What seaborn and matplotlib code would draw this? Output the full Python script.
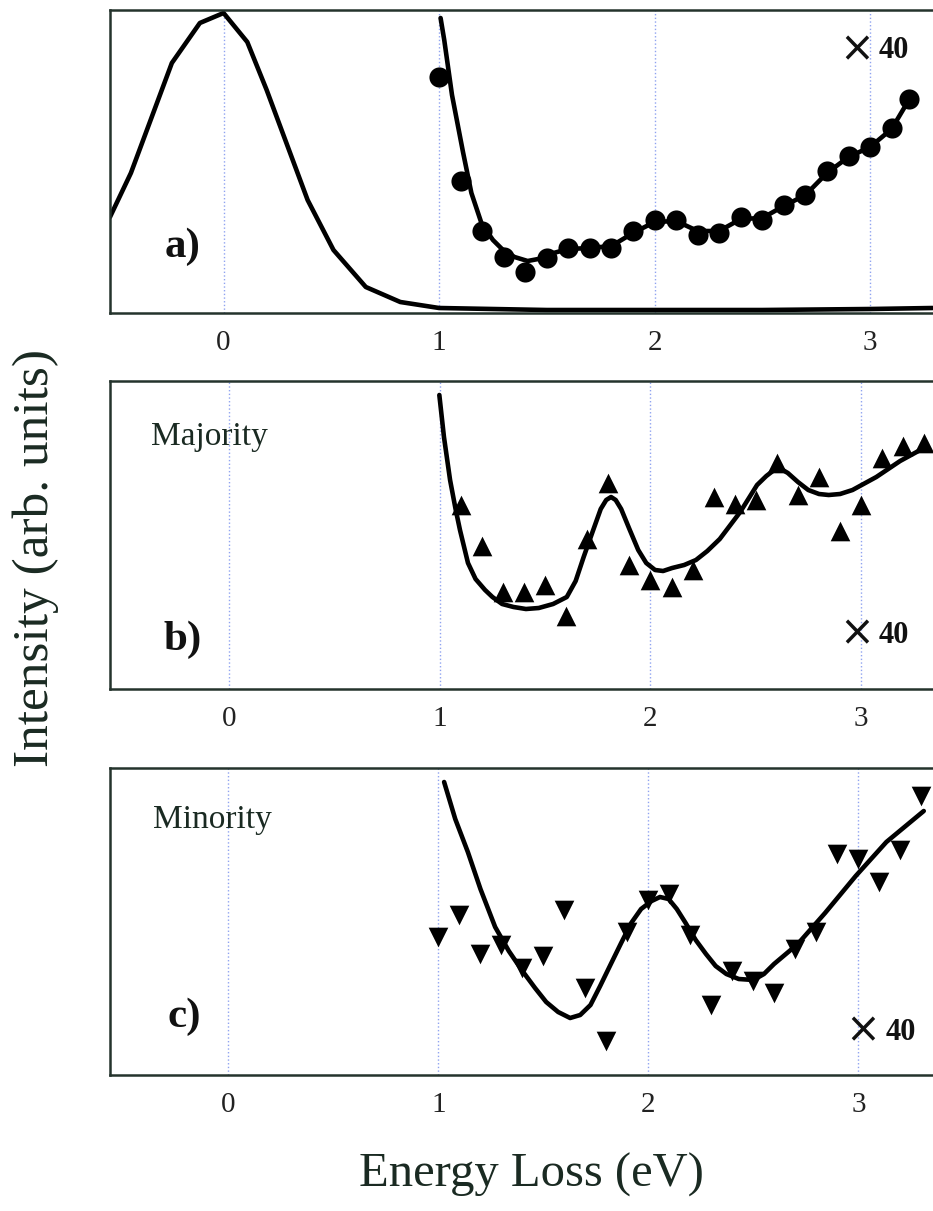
import numpy as np
import matplotlib.pyplot as plt
import seaborn as sns

# panel a: elastic peak
peak_e = [-0.527, -0.43, -0.24, -0.11, 0.0, 0.11, 0.2, 0.39, 0.51, 0.66, 0.82, 1.0, 1.5, 2.0, 2.5, 3.0, 3.29]
peak_i = [96, 140, 250, 290, 300, 271, 223, 113, 63, 26, 11, 5, 3, 3, 3, 4, 5]

# panel a: x40 data (circles) and fit
a_e = [1.0, 1.1, 1.2, 1.3, 1.4, 1.5, 1.6, 1.7, 1.8, 1.9, 2.0, 2.1, 2.2, 2.3, 2.4, 2.5,
       2.6, 2.7, 2.8, 2.9, 3.0, 3.1, 3.18]
a_i = [236, 132, 82, 56, 41, 55, 65, 65, 65, 82, 93, 93, 78, 80, 96, 93,
       108, 118, 142, 157, 166, 185, 214]
a_fit_e = [1.007, 1.024, 1.06, 1.111, 1.15, 1.198, 1.25, 1.292, 1.35, 1.411, 1.46, 1.514,
           1.6, 1.7, 1.8, 1.9, 2.0, 2.1, 2.2, 2.3, 2.4, 2.5, 2.6, 2.7, 2.8, 2.9, 3.0, 3.1, 3.18]
a_fit_i = [295, 273, 218, 161, 120, 89, 73, 64, 56, 52, 54, 59,
           64, 65, 67, 80, 91, 92, 82, 82, 94, 95, 107, 118, 140, 156, 166, 184, 213]

# panel b: majority
b_e = [1.1, 1.2, 1.3, 1.4, 1.5, 1.6, 1.7, 1.8, 1.9, 2.0, 2.1, 2.2, 2.3, 2.4, 2.5,
       2.6, 2.7, 2.8, 2.9, 3.0, 3.1, 3.2, 3.3]
b_i = [184, 143, 97, 97, 104, 73, 150, 206, 124, 109, 102, 119, 192, 185, 189,
       226, 194, 212, 158, 184, 231, 243, 246]
b_fit_e = [0.998, 1.02, 1.049, 1.075, 1.096, 1.134, 1.17, 1.215, 1.25, 1.296, 1.35, 1.409,
           1.47, 1.538, 1.603, 1.645, 1.683, 1.725, 1.764, 1.79, 1.813, 1.835, 1.861, 1.9,
           1.942, 1.98, 2.022, 2.06, 2.103, 2.16, 2.216, 2.27, 2.329, 2.426, 2.506, 2.55,
           2.587, 2.62, 2.652, 2.7, 2.749, 2.8, 2.846, 2.9, 2.959, 3.072, 3.185, 3.298]
b_fit_i = [294, 252, 209, 180, 159, 126, 110, 99, 92, 85, 82, 80,
           81, 85, 92, 108, 132, 157, 180, 189, 192, 189, 180, 160,
           139, 126, 119, 118, 121, 124, 129, 138, 150, 177, 204, 213,
           219, 220, 216, 207, 199, 195, 194, 195, 199, 212, 228, 241]

# panel c: minority
c_e = [1.0, 1.1, 1.2, 1.3, 1.4, 1.5, 1.6, 1.7, 1.8, 1.9, 2.0, 2.1, 2.2, 2.3, 2.4,
       2.5, 2.6, 2.7, 2.8, 2.9, 3.0, 3.1, 3.2, 3.3]
c_i = [138, 160, 121, 130, 107, 119, 165, 87, 34, 143, 175, 181, 140, 70, 104,
       94, 82, 126, 143, 221, 216, 193, 225, 279]
c_fit_e = [1.027, 1.08, 1.14, 1.2, 1.27, 1.335, 1.40, 1.46, 1.513, 1.57, 1.627, 1.675,
           1.724, 1.77, 1.821, 1.87, 1.918, 1.965, 2.015, 2.055, 2.096, 2.135, 2.177,
           2.225, 2.274, 2.32, 2.371, 2.43, 2.50, 2.55, 2.598, 2.711, 2.841, 2.987,
           3.133, 3.311]
c_fit_i = [293, 256, 223, 186, 148, 124, 104, 87, 73, 63, 57, 60,
           70, 89, 111, 132, 152, 166, 174, 178, 176, 166, 152,
           135, 121, 109, 101, 96, 95, 101, 111, 131, 162, 199,
           233, 264]

ticks = [0, 1, 2, 3]

sns.set_style('white')
plt.rcParams['font.family'] = ['Liberation Serif', 'DejaVu Serif']

W, H = 933, 1211
fig = plt.figure(figsize=(W / 100, H / 100), dpi=100)

def frac(left, top, bottom):
    return [left / W, 1 - bottom / H, 1 - left / W, (bottom - top) / H]

ax_a = fig.add_axes(frac(110, 10, 313))
ax_b = fig.add_axes(frac(110, 381, 689))
ax_c = fig.add_axes(frac(110, 768, 1075))

spine_col = '#24332c'
for ax, xl, yl in [(ax_a, (-0.527, 3.292), (0, 303)),
                   (ax_b, (-0.565, 3.341), (0, 308)),
                   (ax_c, (-0.564, 3.355), (0, 307))]:
    ax.set_xlim(*xl)
    ax.set_ylim(*yl)
    ax.set_xticks(ticks)
    ax.set_xticklabels([str(t) for t in ticks])
    ax.set_yticks([])
    ax.grid(axis='x', color='#8fa3f0', linestyle=':', linewidth=1.0)
    ax.tick_params(axis='x', direction='in', length=7, width=1.5, pad=12,
                   labelsize=21, colors=spine_col, labelcolor='#222222')
    for side in ['left', 'top', 'bottom']:
        ax.spines[side].set_color(spine_col)
        ax.spines[side].set_linewidth(1.8)
    ax.spines['right'].set_visible(False)

lw = 3.3
sns.lineplot(x=peak_e, y=peak_i, ax=ax_a, color='black', linewidth=lw, sort=False, estimator=None)
sns.lineplot(x=a_fit_e, y=a_fit_i, ax=ax_a, color='black', linewidth=lw, sort=False, estimator=None)
sns.scatterplot(x=a_e, y=a_i, ax=ax_a, color='black', marker='o', s=210, linewidth=0, zorder=3)

sns.lineplot(x=b_fit_e, y=b_fit_i, ax=ax_b, color='black', linewidth=lw, sort=False, estimator=None)
sns.scatterplot(x=b_e, y=b_i, ax=ax_b, color='black', marker='^', s=200, linewidth=0, zorder=3)

sns.lineplot(x=c_fit_e, y=c_fit_i, ax=ax_c, color='black', linewidth=lw, sort=False, estimator=None)
sns.scatterplot(x=c_e, y=c_i, ax=ax_c, color='black', marker='v', s=200, linewidth=0, zorder=3)

for ax in [ax_a, ax_b, ax_c]:
    ax.set_xlabel('')
    ax.set_ylabel('')

lab = dict(fontsize=31, fontweight='bold', ha='center', va='center', color='#111111')
ax_a.text(0.088, 0.22, 'a)', transform=ax_a.transAxes, **lab)
ax_b.text(0.088, 0.16, 'b)', transform=ax_b.transAxes, **lab)
ax_c.text(0.09, 0.19, 'c)', transform=ax_c.transAxes, **lab)

# "x 40" scale labels: cross and number drawn separately (cross is wider in the original)
def times40(ax, xc, yc):
    ax.text(xc - 0.012, yc, '×', transform=ax.transAxes, fontsize=30,
            family=['DejaVu Sans'], ha='right', va='center', color='#111111')
    ax.text(xc - 0.006, yc - 0.005, '40', transform=ax.transAxes, fontsize=22,
            fontweight='bold', ha='left', va='center', color='#111111')

times40(ax_a, 0.94, 0.87)
times40(ax_b, 0.94, 0.18)
times40(ax_c, 0.948, 0.145)

ax_b.text(0.05, 0.82, 'Majority', transform=ax_b.transAxes, fontsize=24,
          ha='left', va='center', color='#1a2a22')
ax_c.text(0.052, 0.83, 'Minority', transform=ax_c.transAxes, fontsize=24,
          ha='left', va='center', color='#1a2a22')

fig.text(36 / W, 1 - 558 / H, 'Intensity (arb. units)', rotation=90, fontsize=37,
         ha='center', va='center', color='#1a2a22')
fig.text(531 / W, 1 - 1175 / H, 'Energy Loss (eV)', fontsize=35,
         ha='center', va='center', color='#1a2a22')

fig.savefig('out.png', dpi=100)
